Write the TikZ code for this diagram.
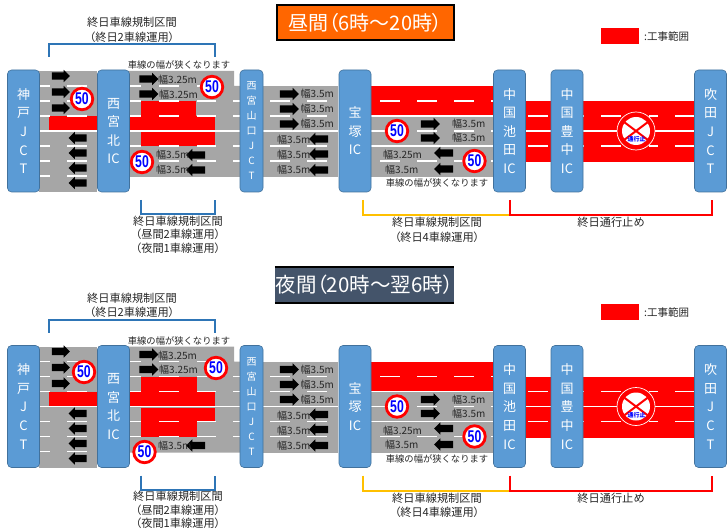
\documentclass[tikz,border=0pt]{standalone}
\usepackage{fontspec}
\setmainfont{Noto Sans CJK JP}
\newfontfamily\tightfont[RawFeature={+palt}]{Noto Sans CJK JP}
\newfontfamily\signfont{Liberation Sans}
\usetikzlibrary{shapes.arrows}
\definecolor{icblue}{HTML}{5B9BD5}
\definecolor{icedge}{HTML}{41719C}
\definecolor{roadgray}{HTML}{A6A6A6}
\definecolor{textgray}{HTML}{262626}
\definecolor{spanblue}{HTML}{2E75B6}
\definecolor{spanyellow}{HTML}{FFC000}
\definecolor{dayorange}{HTML}{FF6600}
\definecolor{nightslate}{HTML}{44546A}
\tikzset{
    icbox/.style={draw=icedge, fill=icblue, rounded corners=4pt, text=white, align=center,
        minimum height=122pt, minimum width=32pt, inner sep=0pt, line width=.6pt,
        font=\fontsize{13}{18.6}\selectfont},
    smallic/.style={icbox, minimum width=23pt, font=\fontsize{10}{15}\selectfont},
    lane/.style={white, line width=1.5pt},
    span/.style={line width=2pt},
    rightarrow/.style={single arrow, fill=black, minimum height=19pt, text height=7pt, text depth=0pt,
        text width=0pt, single arrow head extend=2.5pt, inner sep=0pt},
    leftarrow/.style={rightarrow, shape border rotate=180},
    sign/.style={circle, fill=white, draw=red, line width=2.8pt, minimum size=21.5pt, inner sep=0pt,
        text=blue, font=\signfont\bfseries\fontsize{17}{17}\selectfont},
    width/.style={text=textgray, inner sep=0pt, font=\fontsize{10}{11}\selectfont},
    note/.style={text=textgray, inner sep=0pt, align=center, font=\tightfont\fontsize{11.2}{13.6}\selectfont},
    widenote/.style={note, font=\tightfont\fontsize{11.2}{14.6}\selectfont},
    smallnote/.style={note, font=\fontsize{9.3}{11}\selectfont},
    title/.style={text=white, inner sep=0pt, font=\tightfont\fontsize{20}{22}\selectfont},
}
\newcommand{\limitsign}[3]{\node[sign] (#1) at (#2) {\scalebox{.72}[1]{#3}};}

% Road surfaces shared by both panels
\newcommand{\roadbase}{
    \fill[roadgray] (39,71) rectangle (97,192);
    \fill[roadgray] (129,71) -- (234,71) -- (234,86) -- (240,86) -- (240,177) -- (129,177) -- cycle;
    \fill[roadgray] (263,86) rectangle (338,177);
    \fill[roadgray] (371,116) rectangle (494,177);
    \fill[red] (371,86) rectangle (494,116);
    \fill[red] (526,101) rectangle (695,162);
    \fill[red] (49,116) rectangle (97,130);
}

% Lanes, interchanges, labels shared by both panels
\newcommand{\roadtop}[1]{
    % lane markings
    \foreach \y in {86,101,116,146,161} {
        \draw[lane] (39,\y) -- (50,\y);
        \draw[lane] (67,\y) -- (87,\y);
        \draw[lane] (129,\y) -- (141,\y);
        \draw[lane] (159,\y) -- (179,\y);
        \draw[lane] (197,\y) -- (216,\y);
    }
    \foreach \y in {101,116,146,161} {
        \draw[lane] (233,\y) -- (240,\y);
        \draw[lane] (270,\y) -- (290,\y);
        \draw[lane] (307,\y) -- (327,\y);
    }
    \draw[lane] (39,176) -- (50,176);
    \draw[lane] (67,176) -- (87,176);
    \foreach \y in {101,131,161} {
        \draw[lane] (380,\y) -- (400,\y);
        \draw[lane] (417,\y) -- (437,\y);
        \draw[lane] (454,\y) -- (474,\y);
        \draw[lane] (491,\y) -- (494,\y);
    }
    \draw[lane] (371,131) -- (380,131);
    \foreach \y in {116,146} {
        \draw[lane] (371,\y) -- (494,\y);
    }
    \foreach \y in {116,146} {
        \draw[lane] (528,\y) -- (548,\y);
        \draw[lane] (583,\y) -- (584,\y);
        \draw[lane] (601,\y) -- (621,\y);
        \draw[lane] (649,\y) -- (658,\y);
        \draw[lane] (675,\y) -- (695,\y);
    }
    \draw[lane] (39,131) -- (97,131);
    \draw[lane] (129,131) -- (240,131);
    \draw[lane] (263,131) -- (338,131);
    \draw[lane] (526,131) -- (695,131);

    % interchanges
    \node[icbox] (kobe#1) at (23.5,131) {神\\戸\\J\\C\\T};
    \node[icbox] (kita#1) at (113.5,131) {西\\宮\\北\\IC};
    \node[smallic] (yama#1) at (251.5,131) {西\\宮\\山\\口\\J\\C\\T};
    \node[icbox] (taka#1) at (355,131) {宝\\塚\\IC};
    \node[icbox] (ike#1) at (509.5,131) {中\\国\\池\\田\\IC};
    \node[icbox] (toyo#1) at (567,131) {中\\国\\豊\\中\\IC};
    \node[icbox] (suita#1) at (710.5,131) {吹\\田\\J\\C\\T};

    % arrows
    \foreach \i/\y in {1/76,2/92,3/108}
        \node[rightarrow, minimum height=18pt] (ka\i#1) at (59,\y) {};
    \foreach \i/\y in {1/138,2/153,3/168,4/183}
        \node[leftarrow, minimum height=18pt] (kb\i#1) at (79.5,\y) {};
    \foreach \i/\y in {1/79,2/94}
        \node[rightarrow] (na\i#1) at (147,\y) {};
    \foreach \i/\y in {1/94,2/109,3/124}
        \node[rightarrow] (ya\i#1) at (287.5,\y) {};
    \foreach \i/\y in {1/139,2/154,3/170}
        \node[leftarrow] (yb\i#1) at (320.5,\y) {};
    \foreach \i/\y in {1/124,2/138}
        \node[rightarrow] (ta\i#1) at (428.5,\y) {};
    \foreach \i/\y in {1/153,2/169}
        \node[leftarrow] (tb\i#1) at (445.5,\y) {};

    % lane widths
    \node[width, anchor=west] (wa1#1) at (158,80) {幅3.25m};
    \node[width, anchor=west] (wa2#1) at (159,94.5) {幅3.25m};
    \foreach \i/\y in {1/94,2/109,3/124}
        \node[width, anchor=west] (wb\i#1) at (300.5,\y) {幅3.5m};
    \foreach \i/\y in {1/140,2/155,3/170}
        \node[width, anchor=west] (wc\i#1) at (277,\y) {幅3.5m};
    \foreach \i/\y in {1/124,2/138}
        \node[width, anchor=west] (wd\i#1) at (452,\y) {幅3.5m};
    \node[width, anchor=west] (we1#1) at (383,155) {幅3.25m};
    \node[width, anchor=west] (we2#1) at (385,169.5) {幅3.5m};

    % speed limits
    \limitsign{sc#1}{397,131}{50}
    \limitsign{sd#1}{474.5,161}{50}

    % closed road sign
    \node[circle, fill=red, draw=white, line width=.7pt, minimum size=38pt, inner sep=0pt] (stop#1) at (636,131) {};
    \node[circle, fill=white, minimum size=28pt, inner sep=0pt] (stopin#1) at (636,131) {};
    \draw[red, line width=2pt] (stopin#1.143) -- (stopin#1.-37);
    \draw[red, line width=2pt] (stopin#1.37) -- (stopin#1.-143);
    \node[text=blue, inner sep=0pt, font=\bfseries\fontsize{6}{6}\selectfont] (stoptext#1) at (636.5,139.5) {通行止};

    % notes
    \node[widenote] (noa#1) at (132,30) {終日車線規制区間\\（終日2車線運用）};
    \node[smallnote] (nob#1) at (179,65) {車線の幅が狭くなります};
    \node[note] (noc#1) at (178,234.5) {終日車線規制区間\\（昼間2車線運用）\\（夜間1車線運用）};
    \node[smallnote] (nod#1) at (437,183) {車線の幅が狭くなります};
    \node[widenote] (noe#1) at (437,230) {終日車線規制区間\\（終日4車線運用）};
    \node[note] (nof#1) at (611,222.5) {終日通行止め};

    % spans
    \draw[span, spanblue] (49,57) -- (49,44) -- (215,44) -- (215,57);
    \draw[span, spanblue] (141,200) -- (141,214.5) -- (215,214.5) -- (215,200);
    \draw[span, spanyellow] (363,200) -- (363,215) -- (510,215);
    \draw[span, red] (510,200) -- (510,215) -- (712,215) -- (712,200);

    % legend
    \fill[red] (601,28) rectangle (639,44);
    \node[note, anchor=west, font=\fontsize{10.5}{11}\selectfont] (leg#1) at (644,37) {:工事範囲};
}

\begin{document}
\begin{tikzpicture}[x=1pt, y=-1pt]
    \clip (0,0) rectangle (727,529);

    % Day panel
    \node[title, draw=black, line width=2pt, fill=dayorange, minimum width=177pt, minimum height=35pt] (daytitle) at (365.5,22.5) {昼間（6時～20時）};

    \roadbase
    \fill[red] (141,101) rectangle (196,116);
    \fill[red] (129,116) rectangle (215,130);
    \fill[red] (141,132) rectangle (215,146);
    \roadtop{d}
    \foreach \i/\y in {1/155,2/170} {
        \node[leftarrow] (nbd\i) at (197.5,\y) {};
        \node[width, anchor=west] (wfd\i) at (156,\y) {幅3.5m};
    }
    \limitsign{skd}{82,99}{50}
    \limitsign{sad}{212,87}{50}
    \limitsign{sbd}{142,162}{50}

    % Night panel
    \node[title, fill=nightslate, minimum width=179pt, minimum height=36pt,
        font=\tightfont\fontsize{20.5}{22}\selectfont] (nighttitle) at (364.5,285) {夜間（20時～翌6時）};
    \draw[line width=1.5pt] (nighttitle.north west) -- (nighttitle.north east);
    \draw[line width=1.5pt] (nighttitle.south west) -- (nighttitle.south east);

    \begin{scope}[yshift=-275.5pt]
        \roadbase
        \fill[red] (141,101) rectangle (197,116);
        \fill[red] (130,116) rectangle (215,130);
        \fill[red] (141,132) rectangle (215,146);
        \fill[red] (141,146) rectangle (197,161);
        \roadtop{n}
        \node[leftarrow] (nbn1) at (197.5,170) {};
        \node[width, anchor=west] (wfn1) at (158,170) {幅3.5m};
        \limitsign{skn}{84,96.5}{50}
        \limitsign{san}{216,92.5}{50}
        \limitsign{sbn}{144.5,176.5}{50}
    \end{scope}
\end{tikzpicture}
\end{document}
